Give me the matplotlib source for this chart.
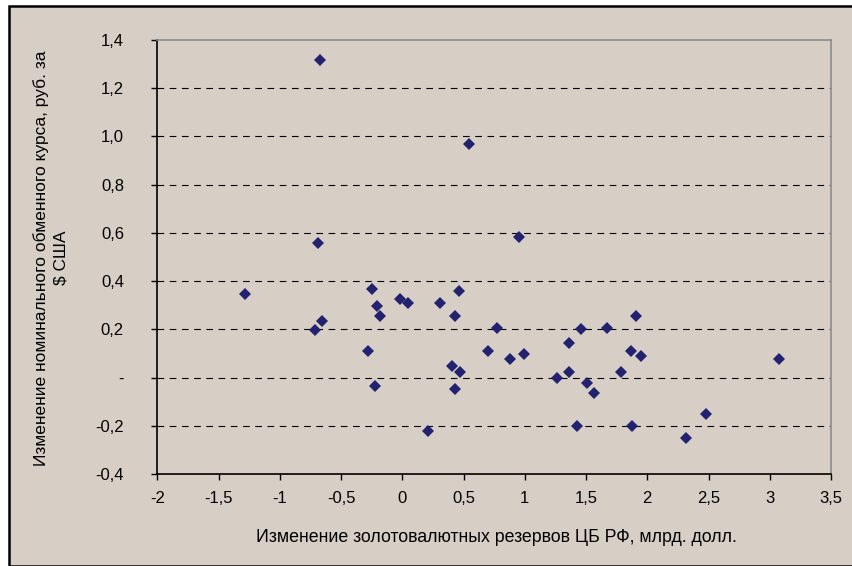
import matplotlib

matplotlib.use("Agg")
import matplotlib.pyplot as plt
from matplotlib.patches import Rectangle
from matplotlib.ticker import FixedLocator, FuncFormatter

plt.rcParams["font.family"] = ["Liberation Sans", "DejaVu Sans"]

# change in CBR gold/FX reserves, bn USD
reserves = [-0.672, 0.543, -0.685, -1.284, -0.713, -0.658, -0.250, -0.209,
            -0.182, -0.278, -0.223, -0.019, 0.049, 0.212, 0.308, 0.463,
            0.430, 0.403, 0.471, 0.430, 0.702, 0.771, 0.882, 0.991,
            1.263, 1.358, 1.358, 1.456, 1.429, 1.510, 1.565, 1.673,
            1.783, 1.864, 1.905, 1.946, 1.878, 2.313, 2.477, 3.075, 0.953]
# change in nominal RUB/USD rate
rate = [1.318, 0.969, 0.560, 0.346, 0.199, 0.235, 0.366, 0.297,
        0.256, 0.110, -0.035, 0.325, 0.311, -0.223, 0.311, 0.359,
        0.256, 0.048, 0.021, -0.049, 0.110, 0.206, 0.076, 0.097,
        0.000, 0.145, 0.021, 0.200, -0.201, -0.021, -0.062, 0.207,
        0.021, 0.110, 0.256, 0.090, -0.201, -0.249, -0.152, 0.076, 0.581]

x_ticks = [-2, -1.5, -1, -0.5, 0, 0.5, 1, 1.5, 2, 2.5, 3, 3.5]
y_ticks = [-0.4, -0.2, 0, 0.2, 0.4, 0.6, 0.8, 1.0, 1.2, 1.4]

BG = "#d7cfc6"


def fmt_x(v, pos):
    return f"{v:g}".replace(".", ",")


def fmt_y(v, pos):
    if abs(v) < 1e-9:
        return "-"
    return f"{v:.1f}".replace(".", ",")


fig = plt.figure(figsize=(8.52, 5.66), dpi=100)
fig.patch.set_facecolor("white")
# chart-area background with black frame on top/left
fig.patches.append(Rectangle((9 / 852, 0), 1, 1 - 6 / 566, transform=fig.transFigure,
                             facecolor=BG, edgecolor="black", linewidth=1.8, zorder=-10))

ax = fig.add_axes([157.3 / 852, 1 - 474 / 566, (831 - 157.3) / 852, (474 - 40) / 566])
ax.set_facecolor(BG)

ax.plot(reserves, rate, linestyle="none", marker="D", markersize=6.2,
        color="#222270", markeredgewidth=0, zorder=3)

ax.set_xlim(-2, 3.5)
ax.set_ylim(-0.4, 1.4)
ax.xaxis.set_major_locator(FixedLocator(x_ticks))
ax.yaxis.set_major_locator(FixedLocator(y_ticks))
ax.xaxis.set_major_formatter(FuncFormatter(fmt_x))
ax.yaxis.set_major_formatter(FuncFormatter(fmt_y))

for y in y_ticks[1:-1]:
    ax.axhline(y, color="black", linestyle=(0, (6, 5)), linewidth=0.8, zorder=1)

ax.spines["left"].set_color("black")
ax.spines["bottom"].set_color("black")
ax.spines["top"].set_color("#8c8c8c")
ax.spines["right"].set_color("#8c8c8c")
for s in ax.spines.values():
    s.set_linewidth(1.2)

ax.tick_params(axis="x", direction="out", length=4, width=1, pad=8, labelsize=12)
ax.tick_params(axis="y", direction="out", length=4, width=1, pad=20, labelsize=12)

fig.text(496 / 852, 1 - 537 / 566,
         "Изменение золотовалютных резервов ЦБ РФ, млрд. долл.",
         fontsize=12.8, ha="center", va="center")
fig.text(51 / 852, 1 - 258 / 566,
         "Изменение номинального обменного курса, руб. за\n$ США",
         fontsize=12.5, rotation=90, ha="center", va="center",
         multialignment="center", linespacing=1.4)

fig.savefig("out.png", dpi=100, facecolor=fig.get_facecolor())
